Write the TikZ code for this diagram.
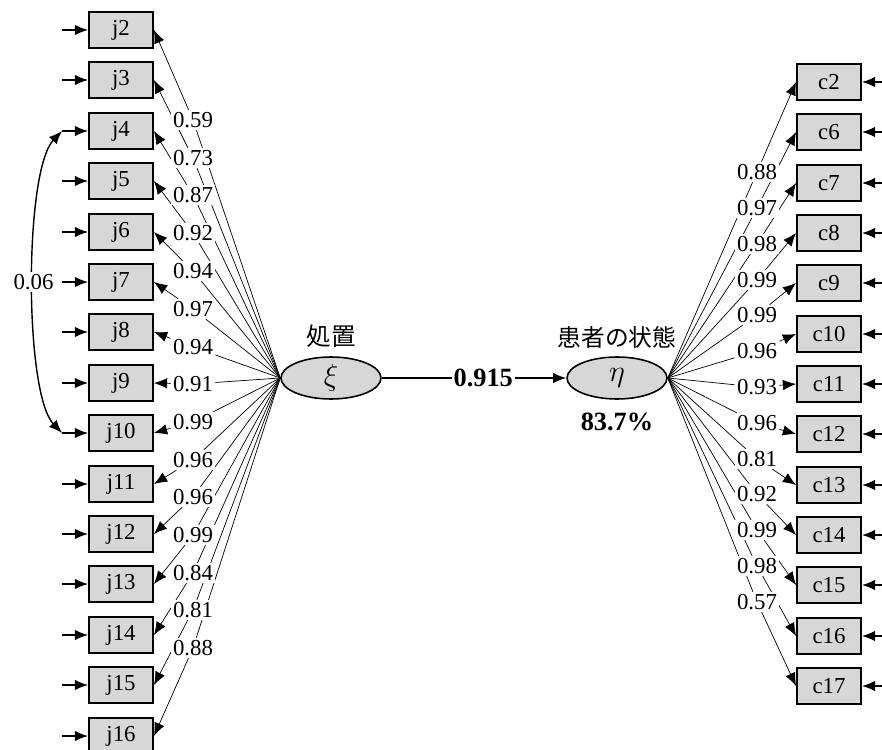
\documentclass[tikz,border=0pt]{standalone}
\usepackage{fontspec}
\setmainfont{Liberation Serif}
\newfontfamily\jpfont{Noto Sans CJK JP}
\usetikzlibrary{
  arrows.meta,
  positioning,
  shapes.geometric,
  backgrounds
}
\definecolor{boxfill}{RGB}{215,215,215}

\begin{document}
\begin{tikzpicture}[
  x=0.02cm, y=-0.02cm,
  every node/.style={font=\fontsize{13}{15}\selectfont},
  obs/.style={draw, line width=1.1pt, fill=boxfill, minimum width=1.28cm,
              minimum height=0.72cm, inner sep=0pt},
  lat/.style={ellipse, draw, line width=0.9pt, fill=boxfill, minimum width=2.0cm,
              minimum height=0.84cm, inner sep=0pt, font=\fontsize{18}{20}\selectfont},
  load/.style={fill=white, inner sep=1pt},
  big/.style={font=\bfseries\fontsize{15}{17}\selectfont},
  >={Latex[length=7.5pt,width=6pt]},
  line width=0.8pt
]
\useasboundingbox (0,0) rectangle (882,750);

% latent variables
\node[lat] (xi) at (331,378) {$\xi$};
\node[lat] (eta) at (617,378) {$\eta$};
\node[above=1pt of xi, font=\jpfont\fontsize{14}{16}\selectfont] (xilab) {処置};
\node[above=1pt of eta, font=\jpfont\fontsize{13.5}{16}\selectfont] (etalab) {患者の状態};
\node[below=4pt of eta, big] (rsq) {83.7\%};

% treatment indicators
\node[obs] (j2) at (121,30) {j2};
\node[obs] (j3) at (121,80) {j3};
\node[obs] (j4) at (121,131) {j4};
\node[obs] (j5) at (121,181) {j5};
\node[obs] (j6) at (121,232) {j6};
\node[obs] (j7) at (121,282) {j7};
\node[obs] (j8) at (121,332) {j8};
\node[obs] (j9) at (121,383) {j9};
\node[obs] (j10) at (121,433) {j10};
\node[obs] (j11) at (121,484) {j11};
\node[obs] (j12) at (121,534) {j12};
\node[obs] (j13) at (121,584) {j13};
\node[obs] (j14) at (121,635) {j14};
\node[obs] (j15) at (121,685) {j15};
\node[obs] (j16) at (121,736) {j16};

% condition indicators
\node[obs] (c2) at (829,82) {c2};
\node[obs] (c6) at (829,132) {c6};
\node[obs] (c7) at (829,183) {c7};
\node[obs] (c8) at (829,233) {c8};
\node[obs] (c9) at (829,283) {c9};
\node[obs] (c10) at (829,334) {c10};
\node[obs] (c11) at (829,384) {c11};
\node[obs] (c12) at (829,434) {c12};
\node[obs] (c13) at (829,485) {c13};
\node[obs] (c14) at (829,535) {c14};
\node[obs] (c15) at (829,585) {c15};
\node[obs] (c16) at (829,636) {c16};
\node[obs] (c17) at (829,686) {c17};

% loadings, left
\node[load] (lj2) at (193,120) {0.59};
\node[load] (lj3) at (193,158) {0.73};
\node[load] (lj4) at (193,195) {0.87};
\node[load] (lj5) at (193,233) {0.92};
\node[load] (lj6) at (193,271) {0.94};
\node[load] (lj7) at (193,309) {0.97};
\node[load] (lj8) at (193,347) {0.94};
\node[load] (lj9) at (193,384) {0.91};
\node[load] (lj10) at (193,422) {0.99};
\node[load] (lj11) at (193,460) {0.96};
\node[load] (lj12) at (193,497) {0.96};
\node[load] (lj13) at (193,535) {0.99};
\node[load] (lj14) at (193,573) {0.84};
\node[load] (lj15) at (193,610) {0.81};
\node[load] (lj16) at (193,648) {0.88};

% loadings, right
\node[load] (lc2) at (757,172) {0.88};
\node[load] (lc6) at (757,208) {0.97};
\node[load] (lc7) at (757,244) {0.98};
\node[load] (lc8) at (757,280) {0.99};
\node[load] (lc9) at (757,315) {0.99};
\node[load] (lc10) at (757,351) {0.96};
\node[load] (lc11) at (757,387) {0.93};
\node[load] (lc12) at (757,423) {0.96};
\node[load] (lc13) at (757,459) {0.81};
\node[load] (lc14) at (757,494) {0.92};
\node[load] (lc15) at (757,530) {0.99};
\node[load] (lc16) at (757,566) {0.98};
\node[load] (lc17) at (757,602) {0.57};

% error terms
\coordinate (ej2) at (62,30);
\coordinate (ej3) at (62,80);
\coordinate (ej4) at (62,131);
\coordinate (ej5) at (62,181);
\coordinate (ej6) at (62,232);
\coordinate (ej7) at (62,282);
\coordinate (ej8) at (62,332);
\coordinate (ej9) at (62,383);
\coordinate (ej10) at (62,433);
\coordinate (ej11) at (62,484);
\coordinate (ej12) at (62,534);
\coordinate (ej13) at (62,584);
\coordinate (ej14) at (62,635);
\coordinate (ej15) at (62,685);
\coordinate (ej16) at (62,736);
\coordinate (ec2) at (882,82);
\coordinate (ec6) at (882,132);
\coordinate (ec7) at (882,183);
\coordinate (ec8) at (882,233);
\coordinate (ec9) at (882,283);
\coordinate (ec10) at (882,334);
\coordinate (ec11) at (882,384);
\coordinate (ec12) at (882,434);
\coordinate (ec13) at (882,485);
\coordinate (ec14) at (882,535);
\coordinate (ec15) at (882,585);
\coordinate (ec16) at (882,636);
\coordinate (ec17) at (882,686);

\draw[->] (xi) -- node[pos=0.55, big, fill=white, inner sep=1pt] (beta) {0.915} (eta);

\begin{scope}[on background layer]
\draw[->] (xi.west) -- (lj2) -- (j2.east);
\draw[->] (xi.west) -- (lj3) -- (j3.east);
\draw[->] (xi.west) -- (lj4) -- (j4.east);
\draw[->] (xi.west) -- (lj5) -- (j5.east);
\draw[->] (xi.west) -- (lj6) -- (j6.east);
\draw[->] (xi.west) -- (lj7) -- (j7.east);
\draw[->] (xi.west) -- (lj8) -- (j8.east);
\draw[->] (xi.west) -- (lj9) -- (j9.east);
\draw[->] (xi.west) -- (lj10) -- (j10.east);
\draw[->] (xi.west) -- (lj11) -- (j11.east);
\draw[->] (xi.west) -- (lj12) -- (j12.east);
\draw[->] (xi.west) -- (lj13) -- (j13.east);
\draw[->] (xi.west) -- (lj14) -- (j14.east);
\draw[->] (xi.west) -- (lj15) -- (j15.east);
\draw[->] (xi.west) -- (lj16) -- (j16.east);

\draw[->] (eta.east) -- (lc2) -- (c2.west);
\draw[->] (eta.east) -- (lc6) -- (c6.west);
\draw[->] (eta.east) -- (lc7) -- (c7.west);
\draw[->] (eta.east) -- (lc8) -- (c8.west);
\draw[->] (eta.east) -- (lc9) -- (c9.west);
\draw[->] (eta.east) -- (lc10) -- (c10.west);
\draw[->] (eta.east) -- (lc11) -- (c11.west);
\draw[->] (eta.east) -- (lc12) -- (c12.west);
\draw[->] (eta.east) -- (lc13) -- (c13.west);
\draw[->] (eta.east) -- (lc14) -- (c14.west);
\draw[->] (eta.east) -- (lc15) -- (c15.west);
\draw[->] (eta.east) -- (lc16) -- (c16.west);
\draw[->] (eta.east) -- (lc17) -- (c17.west);
\end{scope}

% residuals
\draw[->] (ej2) -- (j2);
\draw[->] (ej3) -- (j3);
\draw[->] (ej4) -- (j4);
\draw[->] (ej5) -- (j5);
\draw[->] (ej6) -- (j6);
\draw[->] (ej7) -- (j7);
\draw[->] (ej8) -- (j8);
\draw[->] (ej9) -- (j9);
\draw[->] (ej10) -- (j10);
\draw[->] (ej11) -- (j11);
\draw[->] (ej12) -- (j12);
\draw[->] (ej13) -- (j13);
\draw[->] (ej14) -- (j14);
\draw[->] (ej15) -- (j15);
\draw[->] (ej16) -- (j16);
\draw[->] (ec2) -- (c2);
\draw[->] (ec6) -- (c6);
\draw[->] (ec7) -- (c7);
\draw[->] (ec8) -- (c8);
\draw[->] (ec9) -- (c9);
\draw[->] (ec10) -- (c10);
\draw[->] (ec11) -- (c11);
\draw[->] (ec12) -- (c12);
\draw[->] (ec13) -- (c13);
\draw[->] (ec14) -- (c14);
\draw[->] (ec15) -- (c15);
\draw[->] (ec16) -- (c16);
\draw[->] (ec17) -- (c17);

% correlated errors j4, j10
\draw[<->] (ej4) .. controls +(-38,40) and +(-38,-40) .. (ej10)
  node[pos=0.5, load] (r410) {0.06};

\end{tikzpicture}
\end{document}
